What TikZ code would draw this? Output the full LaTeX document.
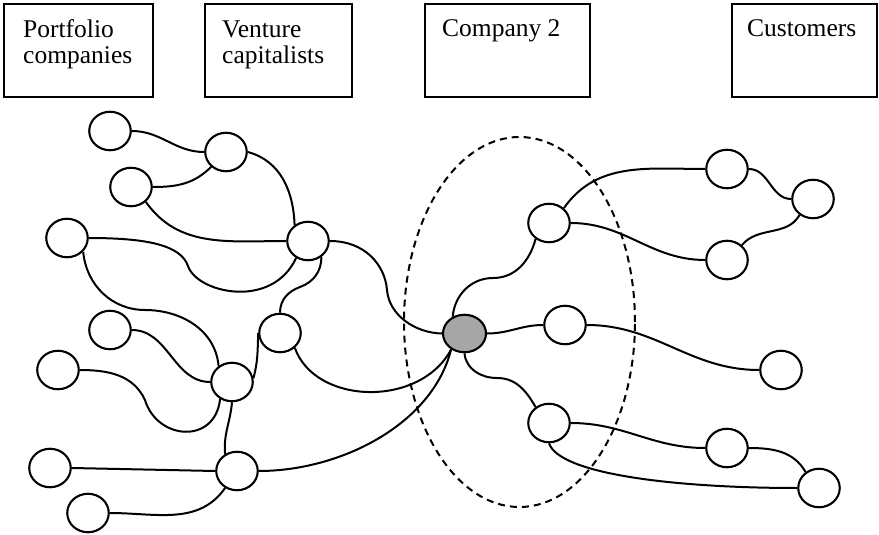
\documentclass[tikz,border=0pt]{standalone}
\usepackage{fontspec}
\setmainfont{Liberation Serif}
\usetikzlibrary{shapes.geometric}
\begin{document}
\begin{tikzpicture}[x=1pt,y=1pt,
  box/.style={draw, line width=2pt, inner sep=0pt},
  lbl/.style={inner sep=0pt, align=left, font=\fontsize{25.5}{27}\selectfont},
  actor/.style={draw, ellipse, line width=2.1pt, fill=white, inner sep=0pt,
                minimum width=41.5pt, minimum height=38.5pt},
  firm/.style={actor, fill=black!35, minimum width=43pt, minimum height=37.5pt},
  link/.style={line width=2pt},
  focus/.style={draw, dashed, ellipse, line width=2pt, dash pattern=on 7pt off 5pt,
                minimum width=231pt, minimum height=370pt, inner sep=0pt}]
\useasboundingbox (0,0) rectangle (879,-535);

% header boxes
\node[box, minimum width=148.5pt, minimum height=93pt] (pcbox) at (78.5,-50.7) {};
\node[box, minimum width=147.5pt, minimum height=93pt] (vcbox) at (278.5,-50.7) {};
\node[box, minimum width=165pt, minimum height=93pt] (cobox) at (507.5,-50.7) {};
\node[box, minimum width=145pt, minimum height=93pt] (cubox) at (804.5,-50.7) {};
\node[lbl, anchor=base west] (pctxt) at (23,-64) {Portfolio\\companies};
\node[lbl, anchor=base west] (vctxt) at (222,-64) {Venture\\capitalists};
\node[lbl, anchor=base west] (cotxt) at (442,-37) {Company 2};
\node[lbl, anchor=base west] (cutxt) at (747,-37) {Customers};

% network around the company
\node[focus] (zone) at (519.5,-322) {};

\node[actor] (A) at (110,-131) {};
\node[actor] (B) at (226,-152) {};
\node[actor] (C) at (131,-187) {};
\node[actor] (D) at (67,-238) {};
\node[actor] (E) at (308,-241) {};
\node[actor] (F) at (110,-330) {};
\node[actor] (G) at (280,-333) {};
\node[actor] (H) at (58,-370) {};
\node[actor] (I) at (232,-382) {};
\node[actor] (J) at (50,-468) {};
\node[actor] (K) at (237,-471) {};
\node[actor] (L) at (88,-513) {};
\node[firm]  (S) at (464.5,-333.5) {};
\node[actor] (M) at (549,-223) {};
\node[actor] (N) at (727,-169) {};
\node[actor] (O) at (813,-199) {};
\node[actor] (P) at (727,-260) {};
\node[actor] (Q) at (565,-325) {};
\node[actor] (R) at (781,-370) {};
\node[actor] (T) at (549,-423) {};
\node[actor] (U) at (727,-448) {};
\node[actor] (V) at (819,-488) {};

% left cluster
\draw[link] (A.east) to[out=0,in=180] (B.west);
\draw[link] (C.east) to[out=0,in=-135] (B.-135);
\draw[link] (B.east) to[out=-15,in=92] (E.130);
\draw[link] (C.-45) to[out=-55,in=180] (E.west);
\draw[link] (D.east) .. controls (150,-238) and (181,-246) .. (188,-266)
  .. controls (197,-293) and (272,-310) .. (E.-125);
\draw[link] (D.-40) to[out=-85,in=180] (145,-310) to[out=0,in=95] (I.130);
\draw[link] (F.east) to[out=0,in=180] (I.west);
\draw[link] (H.east) to[out=0,in=115] (145,-400)
  .. controls (157,-440) and (215,-445) .. (I.-125);
\draw[link] (E.-50) to[out=-90,in=20] (300,-287) to[out=200,in=90] (G.north);
\draw[link] (G.west) to[out=-92,in=75] (I.10);
\draw[link] (I.south) to[out=-95,in=95] (K.125);
\draw[link] (J.east) -- (K.west);
\draw[link] (L.east) to[out=0,in=-125] (K.-125);

% ties into the company
\draw[link] (K.east) .. controls (340,-471) and (432,-425) .. (S.-130);
\draw[link] (G.-45) .. controls (315,-405) and (420,-408) .. (S.-130);
\draw[link] (E.east) .. controls (365,-241) and (385,-265) .. (387,-290)
  .. controls (389,-315) and (415,-333) .. (S.west);
\draw[link] (S.125) to[out=85,in=180] (493,-278) to[out=0,in=-105] (M.-130);
\draw[link] (S.east) to[out=0,in=180] (Q.west);
\draw[link] (S.south) to[out=-85,in=180] (497,-378) to[out=0,in=120] (T.130);

% right cluster
\draw[link] (M.45) to[out=55,in=180] (N.west);
\draw[link] (M.east) to[out=0,in=180] (P.west);
\draw[link] (N.east) to[out=0,in=180] (O.west);
\draw[link] (P.45) to[out=50,in=-120] (O.-130);
\draw[link] (Q.east) to[out=0,in=180] (R.west);
\draw[link] (T.east) to[out=0,in=180] (U.west);
\draw[link] (T.south) .. controls (560,-475) and (680,-488) .. (V.west);
\draw[link] (U.east) to[out=0,in=120] (V.130);
\end{tikzpicture}
\end{document}
